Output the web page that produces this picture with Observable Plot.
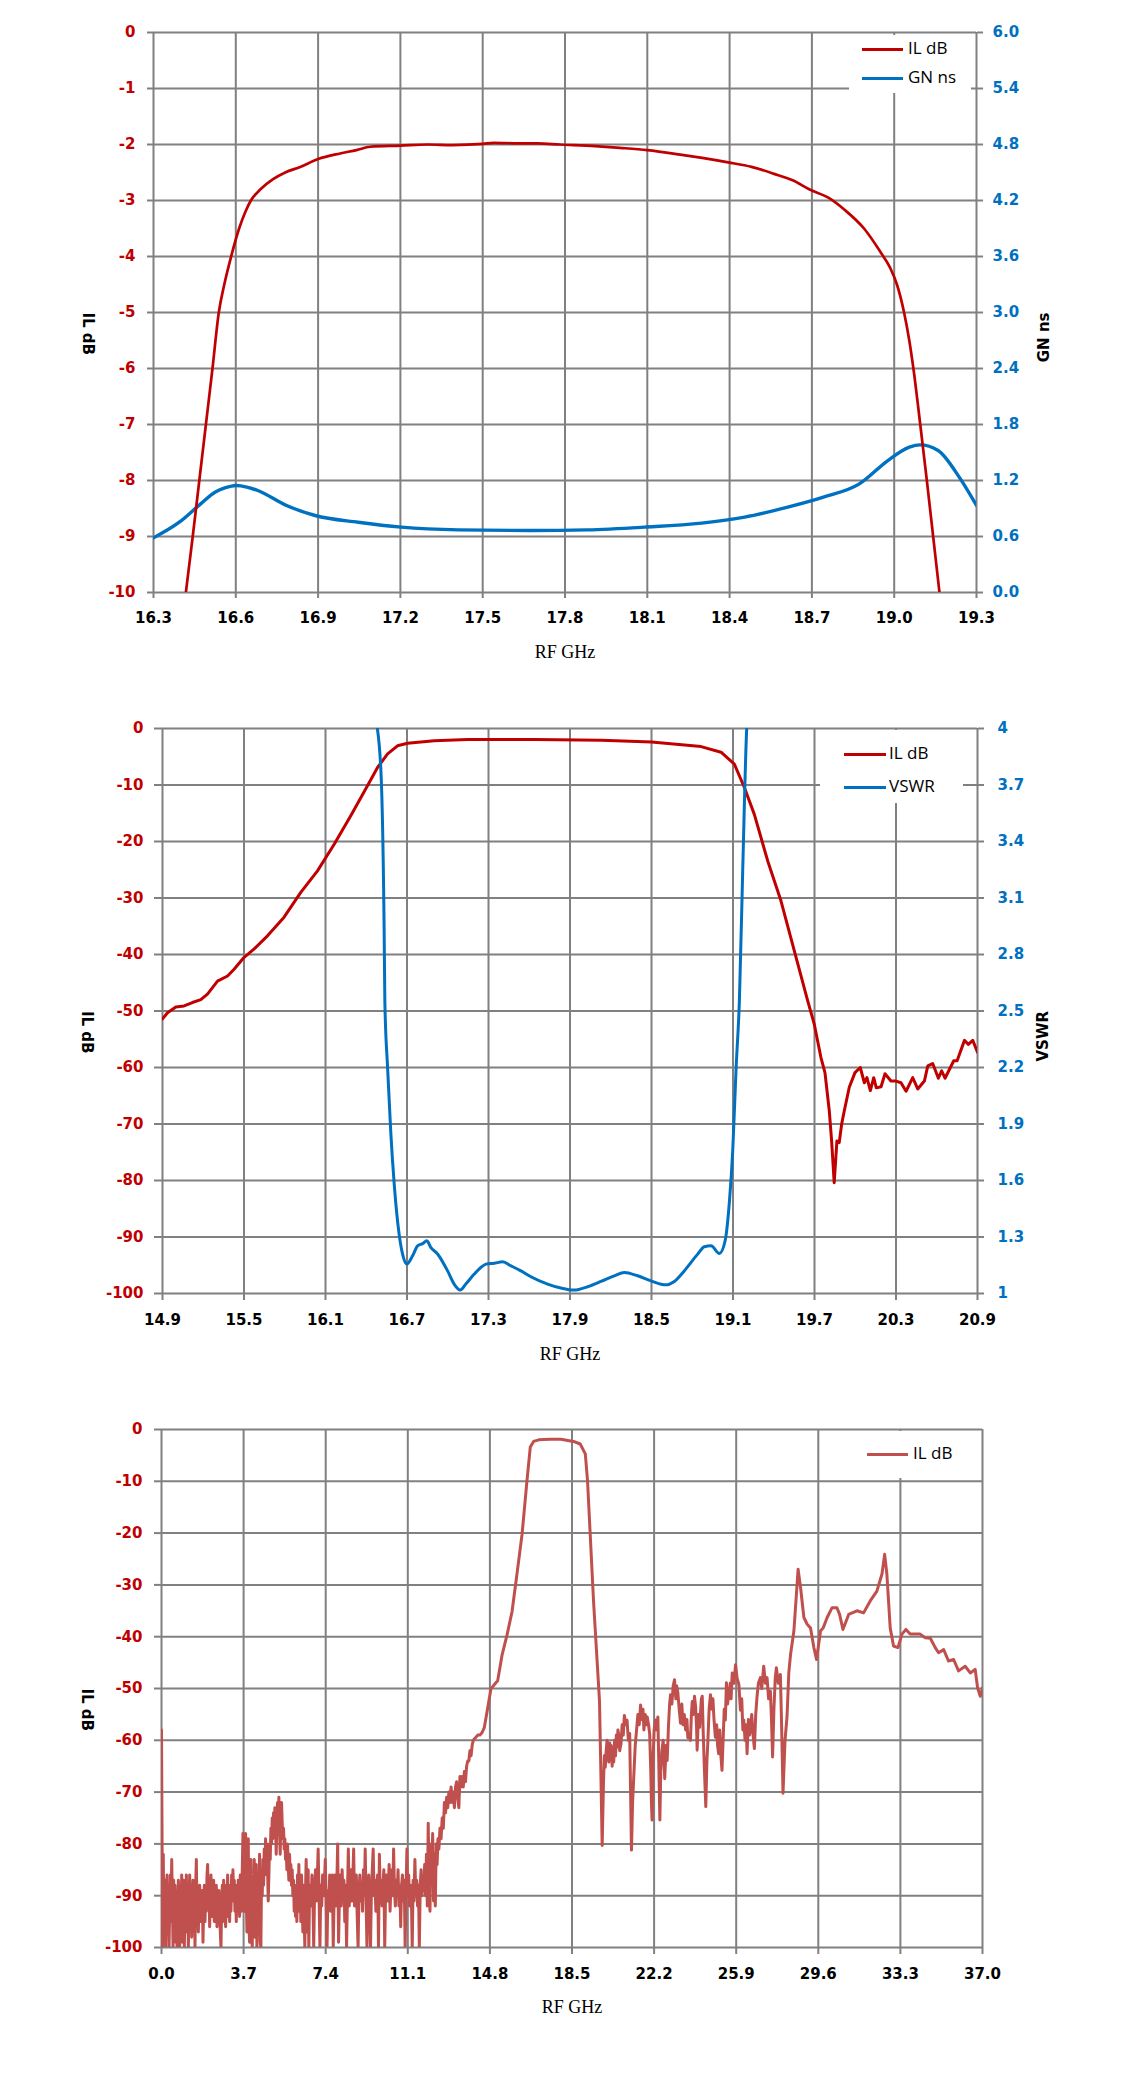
<!DOCTYPE html>
<html>
<head>
<meta charset="utf-8">
<script src="https://cdn.jsdelivr.net/npm/d3@7"></script>
<script src="https://cdn.jsdelivr.net/npm/@observablehq/plot@0.6"></script>
<style>
  body { margin: 0; background: #fff; }
  .chart { position: relative; width: 1121px; }
  .chart svg { display: block; }
  .legend { position: absolute; background: #fff; }
  .lg-line { position: absolute; height: 3px; }
  .lg-text { position: absolute; font-family: "Open Sans", sans-serif; font-size: 17px; color: #000; line-height: 20px; white-space: nowrap; }
</style>
</head>
<body>
<div id="c1" class="chart" style="height:680px"></div>
<div id="c2" class="chart" style="height:710px"></div>
<div id="c3" class="chart" style="height:691px"></div>
<script>
// ---------- Chart 1 data ----------
const xTicks1 = [16.3, 16.6, 16.9, 17.2, 17.5, 17.8, 18.1, 18.4, 18.7, 19.0, 19.3];
const yTicks1 = [-10, -9, -8, -7, -6, -5, -4, -3, -2, -1, 0];
const gnTickLabels = ["0.0", "0.6", "1.2", "1.8", "2.4", "3.0", "3.6", "4.2", "4.8", "5.4", "6.0"];
const il1 = [[16.418,-10],[16.443,-9],[16.467,-8],[16.491,-7],[16.515,-6],[16.538,-5],[16.558,-4.5],[16.583,-4],[16.612,-3.5],[16.635,-3.2],[16.655,-3],[16.69,-2.8],[16.736,-2.62],[16.78,-2.5],[16.835,-2.4],[16.9,-2.26],[16.98,-2.16],[17.04,-2.1],[17.09,-2.04],[17.2,-2.02],[17.3,-2.0],[17.39,-2.01],[17.5,-1.99],[17.54,-1.97],[17.63,-1.98],[17.7,-1.98],[17.78,-2.0],[17.91,-2.03],[18.0,-2.06],[18.1,-2.1],[18.22,-2.18],[18.3,-2.24],[18.395,-2.32],[18.48,-2.4],[18.56,-2.52],[18.63,-2.64],[18.69,-2.8],[18.76,-2.95],[18.82,-3.17],[18.89,-3.5],[18.95,-3.92],[18.985,-4.2],[19.01,-4.5],[19.036,-5.0],[19.055,-5.5],[19.07,-6],[19.095,-7],[19.119,-8],[19.142,-9],[19.165,-10]];
const gn1 = [[16.3,0.586],[16.394,0.753],[16.472,0.95],[16.524,1.075],[16.56,1.12],[16.602,1.146],[16.64,1.13],[16.68,1.093],[16.785,0.932],[16.889,0.825],[17.046,0.753],[17.203,0.7],[17.411,0.671],[17.672,0.664],[17.881,0.671],[18.089,0.7],[18.298,0.743],[18.455,0.807],[18.612,0.914],[18.742,1.021],[18.873,1.164],[18.977,1.414],[19.055,1.557],[19.094,1.582],[19.16,1.521],[19.237,1.236],[19.3,0.932]];

// ---------- Chart 2 data ----------
const xTicks2 = [14.9, 15.5, 16.1, 16.7, 17.3, 17.9, 18.5, 19.1, 19.7, 20.3, 20.9];
const yTicks2 = [-100, -90, -80, -70, -60, -50, -40, -30, -20, -10, 0];
const vswrTickLabels = ["1", "1.3", "1.6", "1.9", "2.2", "2.5", "2.8", "3.1", "3.4", "3.7", "4"];
const il2 = [[14.9,-51.4],[14.937,-50.3],[14.998,-49.3],[15.059,-49.1],[15.12,-48.5],[15.182,-48],[15.231,-47],[15.305,-44.7],[15.379,-43.8],[15.427,-42.6],[15.501,-40.5],[15.575,-39],[15.673,-36.7],[15.795,-33.4],[15.918,-29],[16.041,-25.2],[16.164,-20.5],[16.287,-15.4],[16.41,-10.1],[16.483,-6.9],[16.557,-4.5],[16.63,-3.06],[16.704,-2.6],[16.9,-2.18],[17.146,-1.94],[17.64,-1.94],[18.13,-2.06],[18.5,-2.4],[18.865,-3.2],[19.012,-4.2],[19.11,-6.3],[19.183,-10.4],[19.257,-15.2],[19.355,-23.4],[19.453,-30.5],[19.551,-39.3],[19.65,-48.2],[19.698,-52.3],[19.747,-58.2],[19.777,-60.9],[19.809,-67.7],[19.826,-73],[19.845,-80.4],[19.865,-73],[19.882,-73.3],[19.9,-70],[19.919,-67.7],[19.956,-63.5],[19.998,-60.9],[20.037,-60],[20.067,-62.7],[20.086,-61.8],[20.111,-64.1],[20.136,-61.8],[20.155,-63.6],[20.19,-63.4],[20.219,-61.1],[20.263,-62.4],[20.3,-62.4],[20.337,-62.7],[20.374,-64.2],[20.423,-61.8],[20.46,-63.8],[20.509,-62.4],[20.534,-59.7],[20.57,-59.3],[20.612,-61.9],[20.636,-60.6],[20.661,-61.9],[20.725,-58.8],[20.75,-58.8],[20.804,-55.2],[20.833,-55.9],[20.865,-55.2],[20.9,-57.3]];
const vswr2 = [[16.47,4.05],[16.507,3.79],[16.532,2.91],[16.537,2.55],[16.557,2.2],[16.581,1.85],[16.606,1.58],[16.642,1.315],[16.667,1.21],[16.699,1.156],[16.741,1.2],[16.778,1.253],[16.815,1.265],[16.846,1.28],[16.876,1.244],[16.925,1.21],[16.999,1.12],[17.047,1.05],[17.092,1.018],[17.133,1.05],[17.195,1.103],[17.244,1.138],[17.281,1.156],[17.342,1.161],[17.404,1.168],[17.465,1.147],[17.539,1.12],[17.612,1.089],[17.735,1.05],[17.833,1.029],[17.931,1.018],[18.03,1.036],[18.128,1.064],[18.226,1.094],[18.3,1.112],[18.398,1.094],[18.496,1.067],[18.606,1.046],[18.668,1.064],[18.741,1.12],[18.84,1.209],[18.889,1.248],[18.938,1.253],[19.0,1.212],[19.042,1.28],[19.074,1.492],[19.098,1.758],[19.123,2.2],[19.147,2.554],[19.172,3.262],[19.201,4.0],[19.21,4.1]];

// ---------- Chart 3 data ----------
const xTicks3 = [0, 3.7, 7.4, 11.1, 14.8, 18.5, 22.2, 25.9, 29.6, 33.3, 37.0];
const yTicks3 = [-100, -90, -80, -70, -60, -50, -40, -30, -20, -10, 0];
const il3 = [[0.00,-58],[0.05,-100],[0.08,-82],[0.11,-98],[0.13,-88],[0.16,-87],[0.19,-100],[0.22,-90],[0.25,-86],[0.28,-97],[0.31,-89],[0.34,-100],[0.37,-92],[0.40,-86],[0.43,-95],[0.46,-83],[0.49,-91],[0.52,-100],[0.55,-87],[0.58,-94],[0.61,-88],[0.64,-99],[0.67,-90],[0.70,-100],[0.73,-93],[0.76,-87],[0.79,-96],[0.82,-100],[0.85,-88],[0.88,-94],[0.91,-86],[0.94,-99],[0.97,-92],[1.00,-87],[1.03,-100],[1.06,-89],[1.09,-95],[1.12,-86],[1.15,-97],[1.18,-88],[1.21,-100],[1.24,-91],[1.27,-86],[1.30,-94],[1.33,-89],[1.36,-98],[1.39,-90],[1.42,-87],[1.45,-96],[1.48,-91],[1.51,-100],[1.54,-88],[1.57,-83],[1.60,-93],[1.63,-89],[1.66,-97],[1.69,-91],[1.72,-88],[1.75,-95],[1.78,-90],[1.81,-94],[1.84,-89],[1.87,-99],[1.90,-92],[1.93,-88],[1.96,-95],[1.99,-90],[2.02,-93],[2.05,-86],[2.08,-84],[2.11,-92],[2.14,-88],[2.17,-96],[2.20,-89],[2.23,-86],[2.26,-94],[2.29,-88],[2.32,-92],[2.35,-87],[2.38,-95],[2.41,-90],[2.44,-93],[2.47,-88],[2.50,-96],[2.53,-91],[2.56,-94],[2.59,-89],[2.62,-93],[2.65,-97],[2.68,-100],[2.71,-92],[2.74,-88],[2.77,-95],[2.80,-87],[2.83,-93],[2.86,-89],[2.89,-96],[2.92,-88],[2.95,-94],[2.98,-86],[3.01,-92],[3.04,-89],[3.07,-95],[3.10,-88],[3.13,-93],[3.16,-86],[3.19,-91],[3.22,-85],[3.25,-90],[3.28,-87],[3.31,-93],[3.34,-89],[3.37,-95],[3.40,-88],[3.43,-92],[3.46,-87],[3.49,-90],[3.52,-94],[3.55,-86],[3.58,-91],[3.61,-93],[3.64,-85],[3.67,-78],[3.70,-88],[3.73,-93],[3.76,-83],[3.79,-78],[3.82,-90],[3.85,-97],[3.88,-84],[3.91,-79],[3.94,-95],[3.97,-99],[4.00,-86],[4.03,-83],[4.06,-97],[4.09,-100],[4.12,-88],[4.15,-93],[4.18,-83],[4.21,-98],[4.24,-90],[4.27,-84],[4.30,-100],[4.33,-94],[4.36,-86],[4.39,-92],[4.42,-82],[4.45,-99],[4.48,-100],[4.51,-85],[4.54,-90],[4.57,-83],[4.60,-88],[4.63,-81],[4.66,-86],[4.69,-79],[4.72,-84],[4.75,-80],[4.78,-85],[4.81,-91],[4.84,-86],[4.87,-80],[4.90,-83],[4.93,-77],[4.96,-80],[4.99,-75],[5.02,-79],[5.05,-74],[5.08,-78],[5.11,-73],[5.14,-76],[5.17,-82],[5.20,-75],[5.23,-72],[5.26,-77],[5.29,-71],[5.32,-78],[5.35,-82],[5.38,-74],[5.41,-72],[5.44,-76],[5.47,-79],[5.50,-77],[5.53,-81],[5.56,-79],[5.59,-83],[5.62,-81],[5.65,-85],[5.68,-80],[5.71,-84],[5.74,-87],[5.77,-82],[5.80,-86],[5.83,-84],[5.86,-88],[5.89,-85],[5.92,-90],[5.95,-87],[5.98,-93],[6.01,-88],[6.04,-94],[6.07,-89],[6.10,-95],[6.13,-86],[6.16,-92],[6.19,-84],[6.22,-93],[6.25,-88],[6.28,-95],[6.31,-86],[6.34,-91],[6.37,-97],[6.40,-88],[6.43,-94],[6.46,-100],[6.49,-89],[6.52,-83],[6.55,-92],[6.58,-97],[6.61,-85],[6.64,-100],[6.67,-90],[6.70,-88],[6.74,-92],[6.78,-86],[6.82,-90],[6.86,-100],[6.90,-89],[6.94,-85],[6.98,-91],[7.02,-87],[7.06,-81],[7.10,-90],[7.14,-100],[7.18,-88],[7.22,-92],[7.26,-86],[7.30,-90],[7.34,-88],[7.38,-83],[7.42,-91],[7.46,-100],[7.50,-89],[7.54,-92],[7.58,-86],[7.62,-93],[7.66,-89],[7.70,-86],[7.74,-100],[7.78,-90],[7.82,-86],[7.86,-92],[7.90,-88],[7.94,-80],[7.98,-99],[8.02,-90],[8.06,-86],[8.10,-92],[8.14,-85],[8.18,-90],[8.22,-87],[8.26,-95],[8.30,-88],[8.34,-100],[8.38,-90],[8.42,-81],[8.46,-92],[8.50,-88],[8.54,-85],[8.58,-91],[8.62,-87],[8.66,-81],[8.70,-92],[8.74,-89],[8.78,-86],[8.82,-94],[8.86,-100],[8.90,-89],[8.94,-86],[8.98,-91],[9.02,-88],[9.06,-93],[9.10,-85],[9.14,-90],[9.18,-81],[9.22,-91],[9.26,-100],[9.30,-89],[9.34,-86],[9.38,-92],[9.42,-100],[9.46,-89],[9.50,-85],[9.54,-81],[9.58,-90],[9.62,-87],[9.66,-93],[9.70,-88],[9.74,-86],[9.78,-100],[9.82,-82],[9.86,-90],[9.90,-87],[9.94,-92],[9.98,-88],[10.02,-85],[10.06,-100],[10.10,-89],[10.14,-86],[10.18,-91],[10.22,-88],[10.26,-84],[10.30,-93],[10.34,-88],[10.38,-85],[10.42,-90],[10.46,-81],[10.50,-89],[10.54,-92],[10.58,-87],[10.62,-90],[10.66,-85],[10.70,-92],[10.74,-88],[10.78,-96],[10.82,-88],[10.86,-86],[10.90,-91],[10.94,-87],[10.98,-100],[11.02,-89],[11.06,-81],[11.10,-90],[11.14,-86],[11.18,-92],[11.22,-88],[11.26,-90],[11.30,-100],[11.34,-87],[11.38,-91],[11.42,-83],[11.46,-90],[11.50,-87],[11.54,-92],[11.58,-88],[11.62,-100],[11.66,-88],[11.70,-85],[11.74,-90],[11.78,-87],[11.82,-89],[11.86,-84],[11.90,-90],[11.94,-82],[11.98,-92],[12.02,-76],[12.06,-88],[12.10,-93],[12.14,-80],[12.18,-86],[12.22,-78],[12.26,-91],[12.30,-82],[12.34,-92],[12.38,-80],[12.42,-84],[12.46,-79],[12.50,-81],[12.55,-77],[12.60,-79],[12.65,-75],[12.70,-77],[12.75,-72],[12.80,-74],[12.85,-71],[12.90,-73],[12.95,-70],[13.00,-72],[13.05,-69],[13.10,-72],[13.15,-70],[13.20,-73],[13.25,-69],[13.30,-68],[13.35,-71],[13.40,-73],[13.45,-67],[13.50,-69],[13.55,-67],[13.60,-69],[13.65,-66],[13.70,-68],[13.75,-65],[13.80,-64],[13.85,-64],[13.90,-62],[13.95,-63],[14.00,-61],[14.05,-60],[14.15,-59.5],[14.25,-59],[14.35,-59],[14.45,-58.5],[14.55,-57.5],[14.65,-55],[14.75,-52.5],[14.85,-50],[14.95,-49.5],[15.05,-49],[15.15,-48.5],[15.25,-46],[15.35,-43.5],[15.57,-39.7],[15.80,-35.1],[16.02,-27.9],[16.25,-20.2],[16.47,-9.9],[16.62,-3.4],[16.77,-2.3],[17.00,-2.0],[17.50,-1.9],[18.00,-1.9],[18.57,-2.3],[18.87,-2.8],[19.10,-4.7],[19.20,-9.9],[19.32,-20.2],[19.47,-33.1],[19.65,-46],[19.74,-52.5],[19.80,-66],[19.86,-80.3],[19.92,-68],[19.96,-63],[20.00,-65.2],[20.04,-62],[20.08,-60],[20.12,-63],[20.16,-64.2],[20.20,-60.5],[20.23,-63],[20.27,-61],[20.31,-65],[20.35,-62],[20.38,-64.2],[20.42,-60],[20.46,-63],[20.50,-59],[20.53,-61.3],[20.57,-58],[20.61,-59],[20.65,-62],[20.71,-60.6],[20.76,-57],[20.81,-59],[20.86,-55.2],[20.92,-57],[20.98,-56.1],[21.04,-60],[21.10,-58.7],[21.14,-70],[21.18,-81.2],[21.23,-72],[21.29,-66.4],[21.35,-61],[21.41,-58],[21.47,-55],[21.53,-57],[21.59,-53.2],[21.65,-56],[21.70,-54],[21.74,-58],[21.80,-55],[21.85,-57],[21.89,-55.5],[21.95,-57],[22.00,-58.7],[22.05,-66],[22.08,-72],[22.11,-75.4],[22.15,-64],[22.20,-58],[22.26,-56.1],[22.32,-58],[22.37,-55.5],[22.41,-64],[22.46,-75.4],[22.50,-66],[22.55,-62],[22.61,-60],[22.68,-67.4],[22.74,-61],[22.79,-63.9],[22.85,-57],[22.90,-53],[22.94,-51.2],[23.00,-53],[23.06,-49.5],[23.12,-48.3],[23.18,-52],[23.22,-49.5],[23.27,-50.8],[23.33,-54],[23.39,-56.7],[23.45,-53],[23.50,-57],[23.56,-55],[23.62,-58],[23.68,-56],[23.72,-59.5],[23.77,-58.7],[23.84,-60],[23.88,-55],[23.92,-52.5],[23.97,-55],[24.02,-51.5],[24.07,-53.5],[24.11,-57],[24.14,-61.9],[24.20,-55],[24.25,-57.5],[24.29,-54.8],[24.33,-52],[24.37,-51.5],[24.41,-58],[24.47,-66],[24.53,-72.8],[24.58,-64],[24.62,-60.6],[24.68,-54],[24.74,-51.2],[24.80,-54],[24.85,-52],[24.90,-56],[24.96,-59.4],[25.02,-57],[25.06,-61],[25.11,-62.6],[25.16,-58],[25.21,-63],[25.26,-65.8],[25.31,-60],[25.36,-54],[25.41,-56.1],[25.46,-48.9],[25.51,-53],[25.57,-51.2],[25.63,-49],[25.67,-52],[25.72,-47],[25.80,-49],[25.87,-45.4],[25.94,-48],[26.02,-49.2],[26.09,-54.2],[26.15,-52],[26.20,-58],[26.24,-56.1],[26.30,-60],[26.35,-57],[26.39,-62.6],[26.45,-56],[26.50,-59],[26.54,-58],[26.60,-55],[26.66,-59],[26.72,-61.6],[26.78,-55],[26.84,-51.5],[26.90,-49],[26.99,-47.9],[27.05,-50],[27.14,-45.7],[27.22,-49],[27.29,-47.9],[27.36,-52],[27.44,-50.5],[27.49,-56],[27.54,-63.2],[27.60,-54],[27.66,-48],[27.71,-46],[27.80,-49],[27.89,-47.3],[27.94,-56],[28.01,-70.2],[28.10,-60],[28.19,-55.5],[28.27,-47],[28.35,-43.4],[28.50,-38.9],[28.69,-27],[28.80,-30.5],[28.95,-36.3],[29.10,-37.6],[29.25,-38.3],[29.40,-42.1],[29.52,-44.4],[29.70,-38.9],[29.82,-38.3],[30.00,-36.3],[30.22,-34.4],[30.44,-34.4],[30.56,-35.7],[30.71,-38.6],[30.97,-35.7],[31.34,-35],[31.64,-35.4],[31.94,-33.1],[32.24,-31.2],[32.47,-27.9],[32.59,-24.1],[32.69,-27.9],[32.84,-38.3],[32.99,-41.8],[33.19,-42.1],[33.37,-39.5],[33.55,-38.6],[33.74,-39.5],[33.97,-39.5],[34.19,-39.5],[34.42,-40.2],[34.65,-40.3],[34.87,-42.1],[35.02,-43.1],[35.25,-42.5],[35.47,-44.7],[35.70,-44.4],[35.92,-46.6],[36.22,-45.7],[36.45,-47],[36.67,-46.3],[36.78,-49.9],[36.90,-51.5],[37.00,-49.9]];

// ---------- styling ----------
const RED = "#C00000", BLUE = "#0070C0", RED3 = "#C0504D", GRID = "#808080";
const baseStyle = {background: "white", fontFamily: "'DejaVu Sans', sans-serif", fontSize: "15px", fontWeight: "bold", overflow: "visible"};
const grid = (ticks, dim) => (dim === "x" ? Plot.gridX : Plot.gridY)({ticks, stroke: GRID, strokeOpacity: 1, strokeWidth: 2});

function legend(container, box, items) {
  const el = document.getElementById(container);
  const b = document.createElement("div");
  b.className = "legend";
  Object.assign(b.style, {left: box[0] + "px", top: box[1] + "px", width: box[2] + "px", height: box[3] + "px"});
  el.appendChild(b);
  for (const it of items) {
    const l = document.createElement("div");
    l.className = "lg-line";
    Object.assign(l.style, {left: it.lx + "px", top: (it.y - 1.5) + "px", width: it.lw + "px", background: it.color});
    el.appendChild(l);
    const t = document.createElement("div");
    t.className = "lg-text";
    t.textContent = it.label;
    Object.assign(t.style, {left: it.tx + "px", top: (it.y - 11) + "px"});
    el.appendChild(t);
  }
}

// ---------- Chart 1 ----------
const gnToY = g => g / 0.6 - 10;
document.getElementById("c1").appendChild(Plot.plot({
  width: 1121, height: 680,
  marginTop: 32, marginBottom: 88, marginLeft: 153, marginRight: 145,
  style: baseStyle,
  x: {domain: [16.3, 19.3]},
  y: {domain: [-10, 0]},
  marks: [
    grid(xTicks1, "x"), grid(yTicks1, "y"),
    Plot.line(gn1, {x: d => d[0], y: d => gnToY(d[1]), stroke: BLUE, strokeWidth: 3.4, curve: "monotone-x", clip: true}),
    Plot.line(il1, {x: d => d[0], y: d => d[1], stroke: RED, strokeWidth: 2.7, curve: "monotone-x", clip: true}),
    Plot.axisX({ticks: xTicks1, tickSize: 6, tickPadding: 14, stroke: GRID, strokeWidth: 2, fill: "black", fontWeight: "bold", tickFormat: d => d.toFixed(1), label: null}),
    Plot.axisY({ticks: yTicks1, anchor: "left", tickSize: 6, tickPadding: 12, stroke: GRID, strokeWidth: 2, fill: RED, fontWeight: "bold", tickFormat: d => String(d), label: null}),
    Plot.axisY({ticks: yTicks1, anchor: "right", tickSize: 6, tickPadding: 10, stroke: GRID, strokeWidth: 2, fill: BLUE, fontWeight: "bold", tickFormat: d => gnTickLabels[yTicks1.indexOf(d)], label: null}),
    Plot.text(["IL dB"], {text: d => d, frameAnchor: "left", dx: -66, rotate: 90, fill: "black", fontSize: 15, fontWeight: "bold"}),
    Plot.text(["GN ns"], {text: d => d, frameAnchor: "right", dx: 68, rotate: -90, fill: "black", fontSize: 15, fontWeight: "bold"}),
    Plot.text(["RF GHz"], {text: d => d, frameAnchor: "bottom", dy: 60, lineAnchor: "middle", fill: "black", fontFamily: "'Liberation Serif', serif", fontSize: 18, fontWeight: "normal"})
  ]
}));
legend("c1", [849, 35, 122, 58], [
  {label: "IL dB", color: RED, lx: 862, lw: 41, tx: 908, y: 49},
  {label: "GN ns", color: BLUE, lx: 862, lw: 41, tx: 908, y: 78}
]);

// ---------- Chart 2 ----------
const vswrToY = v => (v - 1) / 0.03 - 100;
document.getElementById("c2").appendChild(Plot.plot({
  width: 1121, height: 710,
  marginTop: 48, marginBottom: 97, marginLeft: 162, marginRight: 144,
  style: baseStyle,
  x: {domain: [14.9, 20.9]},
  y: {domain: [-100, 0]},
  marks: [
    grid(xTicks2, "x"), grid(yTicks2, "y"),
    Plot.line(il2, {x: d => d[0], y: d => d[1], stroke: RED, strokeWidth: 3, strokeLinejoin: "round", clip: true}),
    Plot.line(vswr2, {x: d => d[0], y: d => vswrToY(d[1]), stroke: BLUE, strokeWidth: 3, curve: "monotone-x", clip: true}),
    Plot.axisX({ticks: xTicks2, tickSize: 7, tickPadding: 14, stroke: GRID, strokeWidth: 2, fill: "black", fontWeight: "bold", tickFormat: d => d.toFixed(1), label: null}),
    Plot.axisY({ticks: yTicks2, anchor: "left", tickSize: 8, tickPadding: 11, stroke: GRID, strokeWidth: 2, fill: RED, fontWeight: "bold", tickFormat: d => String(d), label: null}),
    Plot.axisY({ticks: yTicks2, anchor: "right", tickSize: 6, tickPadding: 14, stroke: GRID, strokeWidth: 2, fill: BLUE, fontWeight: "bold", tickFormat: d => vswrTickLabels[yTicks2.indexOf(d)], label: null}),
    Plot.text(["IL dB"], {text: d => d, frameAnchor: "left", dx: -76, rotate: 90, fill: "black", fontSize: 15, fontWeight: "bold"}),
    Plot.text(["VSWR"], {text: d => d, frameAnchor: "right", dx: 66, rotate: -90, fill: "black", fontSize: 15, fontWeight: "bold"}),
    Plot.text(["RF GHz"], {text: d => d, frameAnchor: "bottom", dy: 61, lineAnchor: "middle", fill: "black", fontFamily: "'Liberation Serif', serif", fontSize: 18, fontWeight: "normal"})
  ]
}));
legend("c2", [820, 50, 143, 73], [
  {label: "IL dB", color: RED, lx: 844, lw: 42, tx: 889, y: 74},
  {label: "VSWR", color: BLUE, lx: 844, lw: 42, tx: 889, y: 107}
]);

// ---------- Chart 3 ----------
document.getElementById("c3").appendChild(Plot.plot({
  width: 1121, height: 691,
  marginTop: 39, marginBottom: 134, marginLeft: 161, marginRight: 139,
  style: baseStyle,
  x: {domain: [0, 37]},
  y: {domain: [-100, 0]},
  marks: [
    grid(xTicks3, "x"), grid(yTicks3, "y"),
    Plot.line(il3, {x: d => d[0], y: d => d[1], stroke: RED3, strokeWidth: 3, strokeLinejoin: "round", clip: true}),
    Plot.axisX({ticks: xTicks3, tickSize: 7, tickPadding: 14, stroke: GRID, strokeWidth: 2, fill: "black", fontWeight: "bold", tickFormat: d => d.toFixed(1), label: null}),
    Plot.axisY({ticks: yTicks3, anchor: "left", tickSize: 7, tickPadding: 12, stroke: GRID, strokeWidth: 2, fill: RED, fontWeight: "bold", tickFormat: d => String(d), label: null}),
    Plot.text(["IL dB"], {text: d => d, frameAnchor: "left", dx: -75, rotate: 90, fill: "black", fontSize: 15, fontWeight: "bold"}),
    Plot.text(["RF GHz"], {text: d => d, frameAnchor: "bottom", dy: 60, lineAnchor: "middle", fill: "black", fontFamily: "'Liberation Serif', serif", fontSize: 18, fontWeight: "normal"})
  ]
}));
legend("c3", [822, 41, 156, 47], [
  {label: "IL dB", color: RED3, lx: 867, lw: 41, tx: 913, y: 64}
]);
</script>
</body>
</html>
